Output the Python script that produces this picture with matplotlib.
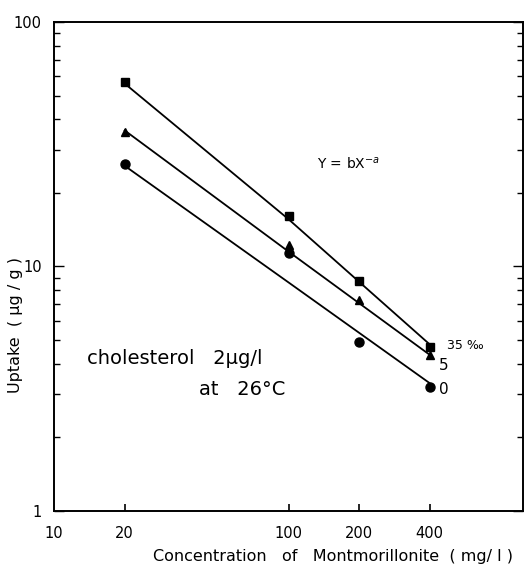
import numpy as np
import matplotlib
matplotlib.use('Agg')
import matplotlib.pyplot as plt
from matplotlib.ticker import FixedLocator, LogLocator, NullFormatter

# montmorillonite concentration (mg/l)
conc = [20, 100, 200, 400]

# measured uptake (ug/g) for each salinity
uptake_35 = [56.9, 16.1, 8.7, 4.68]
uptake_5 = [35.4, 12.2, 7.27, 4.33]
uptake_0 = [26.3, 11.3, 4.92, 3.2]

# fitted curves Y = b X^-a, read at 20, 100 and 400 mg/l
fit_conc = [20, 100, 400]
fit_35 = [56.0, 15.6, 4.8]
fit_5 = [36.0, 11.5, 4.35]
fit_0 = [25.8, 8.6, 3.33]

x_ticks = [10, 20, 100, 200, 400]
x_ticklabels = ['10', '20', '100', '200', '400']

fig = plt.figure(figsize=(5.26, 5.65), dpi=100)
ax = fig.add_axes([0.103, 0.096, 0.891, 0.865])

ax.set_xscale('log')
ax.set_yscale('log')
ax.set_xlim(10, 1000)
ax.set_ylim(1, 100)

ax.plot(fit_conc, fit_35, color='black', lw=1.3)
ax.plot(fit_conc, fit_5, color='black', lw=1.3)
ax.plot(fit_conc, fit_0, color='black', lw=1.3)

ax.plot(conc, uptake_35, 's', color='black', ms=6)
ax.plot(conc, uptake_5, '^', color='black', ms=6)
ax.plot(conc, uptake_0, 'o', color='black', ms=6.5)

# axes ticks
ax.xaxis.set_major_locator(FixedLocator(x_ticks))
ax.xaxis.set_minor_locator(FixedLocator([]))
ax.set_xticklabels(x_ticklabels)
ax.xaxis.set_minor_formatter(NullFormatter())
ax.tick_params(axis='x', which='major', direction='in', length=5, width=1.2,
               pad=11, labelsize=10.5, top=False)
ax.yaxis.set_major_locator(FixedLocator([1, 10, 100]))
ax.set_yticklabels(['1', '10', '100'])
ax.yaxis.set_minor_locator(LogLocator(base=10, subs=np.arange(2, 10)))
ax.yaxis.set_minor_formatter(NullFormatter())
ax.tick_params(axis='y', which='both', direction='in', right=True, width=1.0,
               labelsize=10.5, pad=9)
ax.tick_params(axis='y', which='major', length=7)
ax.tick_params(axis='y', which='minor', length=4)
# hide the tick line at x=10, it sits on the spine
ax.xaxis.get_major_ticks()[0].tick1line.set_visible(False)

for s in ax.spines.values():
    s.set_linewidth(1.4)

ax.set_xlabel('Concentration   of   Montmorillonite  ( mg/ l )', fontsize=11.5,
              va='center')
ax.xaxis.set_label_coords(0.595, -0.094)
ax.set_ylabel('Uptake  ( \u00b5g / g )', fontsize=11.5, va='center')
ax.yaxis.set_label_coords(-0.083, 0.38)

ax.text(132, 26.3, 'Y = bX$^{-a}$', fontsize=10, va='center')

# annotations in data coordinates
ax.text(13.8, 4.2, 'cholesterol   2\u00b5g/l', fontsize=14, va='center')
ax.text(41.4, 3.13, 'at   26\u00b0C', fontsize=14, va='center')
ax.text(475, 4.73, '35 \u2030', fontsize=9, va='center')
ax.text(440, 3.92, '5', fontsize=11, va='center')
ax.text(440, 3.13, '0', fontsize=11, va='center')

fig.savefig('out.png', dpi=100)
